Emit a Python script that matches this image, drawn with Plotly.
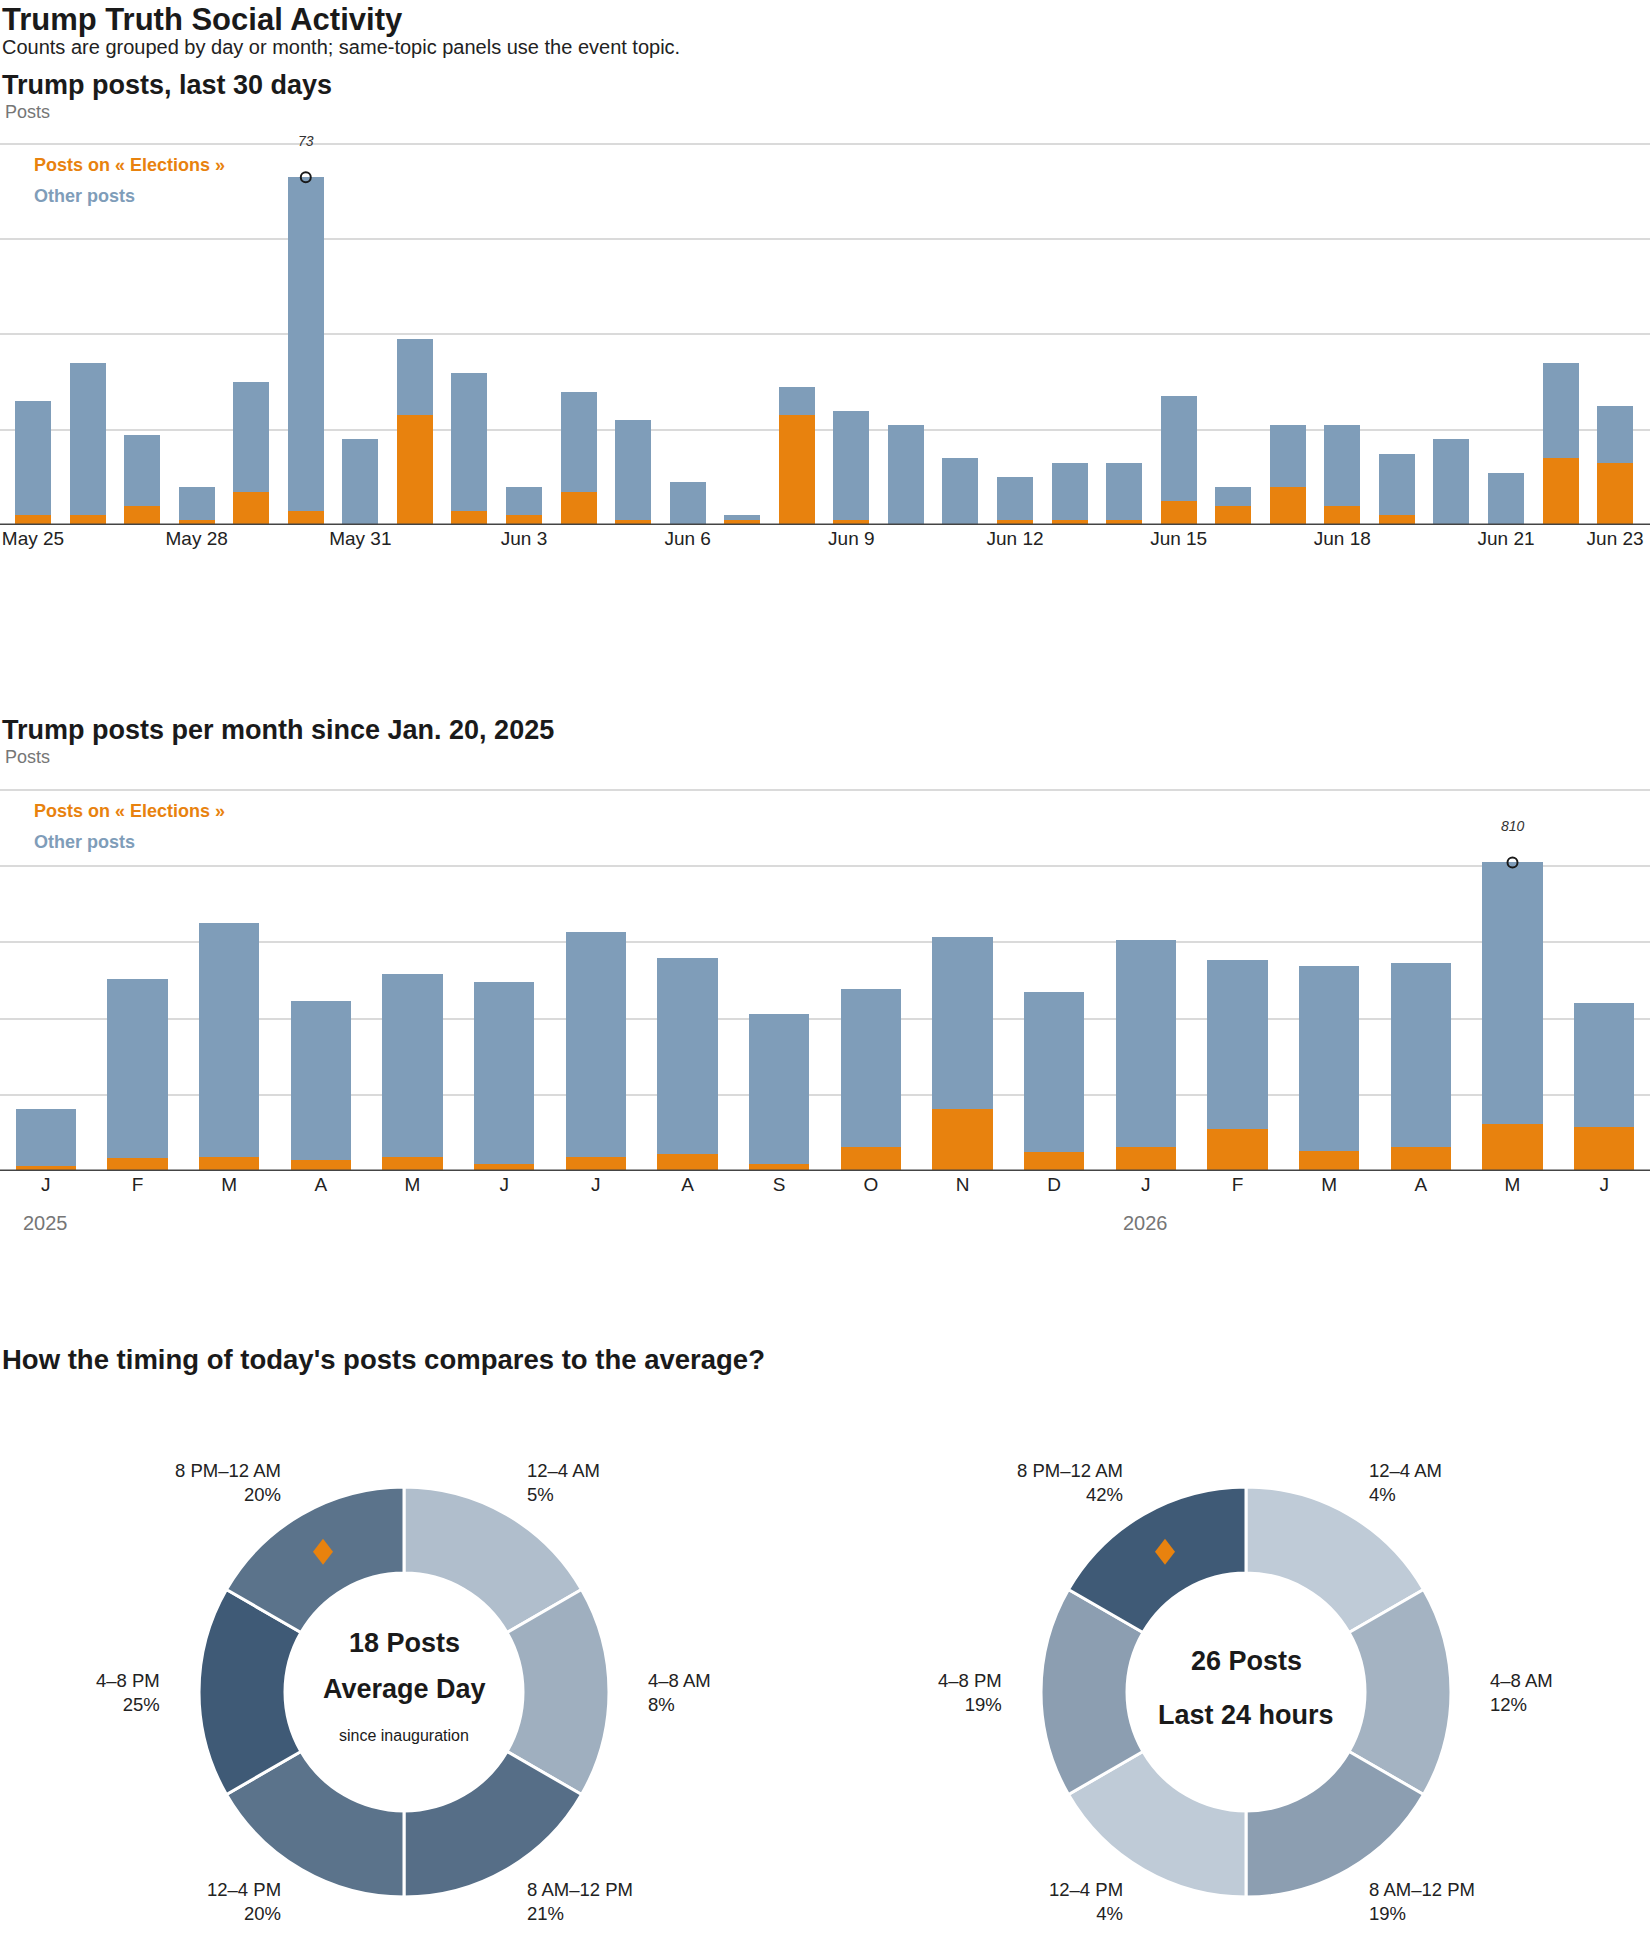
import math
import plotly.graph_objects as go

W, H = 1650, 1950
FONT = "Liberation Sans, Arial, sans-serif"
ORANGE = "#E8820E"
BLUE = "#7F9DB9"
INK = "#1a1a1a"
GRAY = "#767676"
GRID = "#dadada"

# ---------------- data ----------------
days = ["May 25", "May 26", "May 27", "May 28", "May 29", "May 30", "May 31",
        "Jun 1", "Jun 2", "Jun 3", "Jun 4", "Jun 5", "Jun 6", "Jun 7", "Jun 8",
        "Jun 9", "Jun 10", "Jun 11", "Jun 12", "Jun 13", "Jun 14", "Jun 15",
        "Jun 16", "Jun 17", "Jun 18", "Jun 19", "Jun 20", "Jun 21", "Jun 22", "Jun 23"]
daily_elections = [2, 2, 4, 1, 7, 3, 0, 23, 3, 2, 7, 1, 0, 1, 23,
                   1, 0, 0, 1, 1, 1, 5, 4, 8, 4, 2, 0, 0, 14, 13]
daily_other = [24, 32, 15, 7, 23, 70, 18, 16, 29, 6, 21, 21, 9, 1, 6,
               23, 21, 14, 9, 12, 12, 22, 4, 13, 17, 13, 18, 11, 20, 12]
day_ticks = ["May 25", "May 28", "May 31", "Jun 3", "Jun 6", "Jun 9",
             "Jun 12", "Jun 15", "Jun 18", "Jun 21", "Jun 23"]

months = ["Jan 2025", "Feb 2025", "Mar 2025", "Apr 2025", "May 2025", "Jun 2025",
          "Jul 2025", "Aug 2025", "Sep 2025", "Oct 2025", "Nov 2025", "Dec 2025",
          "Jan 2026", "Feb 2026", "Mar 2026", "Apr 2026", "May 2026", "Jun 2026"]
month_ticks = ["J", "F", "M", "A", "M", "J", "J", "A", "S", "O", "N", "D",
               "J", "F", "M", "A", "M", "J"]
monthly_elections = [12, 34, 36, 29, 36, 18, 36, 45, 18, 63, 162, 51,
                     63, 110, 52, 63, 123, 116]
monthly_other = [152, 469, 616, 416, 482, 479, 592, 515, 393, 414, 451, 420,
                 544, 445, 485, 484, 687, 326]
year_labels = {"Jan 2025": "2025", "Jan 2026": "2026"}

time_blocks = ["12–4 AM", "4–8 AM", "8 AM–12 PM", "12–4 PM", "4–8 PM", "8 PM–12 AM"]
avg_day_pct = [5, 8, 21, 20, 25, 20]
last24_pct = [4, 12, 19, 4, 19, 42]
avg_day_posts = 18
last24_posts = 26
current_block = "8 PM–12 AM"


# ---------------- helpers ----------------
def px_x(v):
    return v / W


def px_y(v):
    return 1 - v / H


annotations = []
shapes = []


def txt(x, y, text, size, color=INK, xanchor="left", yanchor="middle",
        align="left", xref="paper", yref="paper", yshift=0):
    annotations.append(dict(
        x=x, y=y, xref=xref, yref=yref, text=text, showarrow=False,
        xanchor=xanchor, yanchor=yanchor, align=align, yshift=yshift,
        font=dict(family=FONT, size=size, color=color)))


fig = go.Figure()

# ---------------- chart 1: daily ----------------
daily_total = [a + b for a, b in zip(daily_elections, daily_other)]
fig.add_trace(go.Bar(x=days, y=daily_elections, marker=dict(color=ORANGE, line=dict(width=0)),
                     xaxis="x", yaxis="y", hoverinfo="skip"))
fig.add_trace(go.Bar(x=days, y=daily_other, marker=dict(color=BLUE, line=dict(width=0)),
                     xaxis="x", yaxis="y", hoverinfo="skip"))
pk = daily_total.index(max(daily_total))
fig.add_trace(go.Scatter(x=[days[pk]], y=[daily_total[pk]], mode="markers",
                         marker=dict(symbol="circle-open", size=10, color=INK, line=dict(width=2)),
                         xaxis="x", yaxis="y", hoverinfo="skip"))
txt(days[pk], daily_total[pk], f"<i>{daily_total[pk]}</i>", 14, "#333",
    xanchor="center", xref="x", yref="y", yshift=36)

# ---------------- chart 2: monthly ----------------
monthly_total = [a + b for a, b in zip(monthly_elections, monthly_other)]
fig.add_trace(go.Bar(x=months, y=monthly_elections, marker=dict(color=ORANGE, line=dict(width=0)),
                     xaxis="x2", yaxis="y2", hoverinfo="skip"))
fig.add_trace(go.Bar(x=months, y=monthly_other, marker=dict(color=BLUE, line=dict(width=0)),
                     xaxis="x2", yaxis="y2", hoverinfo="skip"))
pk2 = monthly_total.index(max(monthly_total))
fig.add_trace(go.Scatter(x=[months[pk2]], y=[monthly_total[pk2]], mode="markers",
                         marker=dict(symbol="circle-open", size=10, color=INK, line=dict(width=2)),
                         xaxis="x2", yaxis="y2", hoverinfo="skip"))
txt(months[pk2], monthly_total[pk2], f"<i>{monthly_total[pk2]}</i>", 14, "#333",
    xanchor="center", xref="x2", yref="y2", yshift=36)
for m, yl in year_labels.items():
    txt(m, px_y(1223), yl, 20, GRAY, xanchor="center", xref="x2")

# baselines
for yr in ("y", "y2"):
    shapes.append(dict(type="line", xref="paper", x0=0, x1=1, yref=yr, y0=0, y1=0,
                       line=dict(color="#444444", width=3), layer="above"))

# ---------------- donuts ----------------
LIGHT = (204, 215, 225)
DARK = (63, 90, 118)


def shade(p, pmax):
    t = p / pmax
    return "rgb({},{},{})".format(*[round(l + (d - l) * t) for l, d in zip(LIGHT, DARK)])


R_OUT, R_IN = 205, 119
R_LABEL = 242
CY = 1692
donuts = [
    (404, avg_day_pct, [(f"<b>{avg_day_posts} Posts</b>", 1643, 27),
                        ("<b>Average Day</b>", 1689, 27),
                        ("since inauguration", 1735, 16)]),
    (1246, last24_pct, [(f"<b>{last24_posts} Posts</b>", 1661, 27),
                        ("<b>Last 24 hours</b>", 1715, 27)]),
]
nseg = len(time_blocks)
for cx, pct, center_lines in donuts:
    pmax = max(pct)
    fig.add_trace(go.Pie(
        values=[1 for _ in time_blocks], labels=time_blocks, sort=False,
        direction="clockwise", rotation=0, hole=R_IN / R_OUT,
        marker=dict(colors=[shade(p, pmax) for p in pct], line=dict(color="white", width=3)),
        textinfo="none", hoverinfo="skip", showlegend=False,
        domain=dict(x=[px_x(cx - R_OUT), px_x(cx + R_OUT)],
                    y=[px_y(CY + R_OUT), px_y(CY - R_OUT)])))
    for i, (blk, p) in enumerate(zip(time_blocks, pct)):
        a = math.radians((i + 0.5) * 360 / nseg)
        lx = cx + R_LABEL * math.sin(a)
        ly = CY - R_LABEL * math.cos(a)
        right = math.sin(a) > 0
        txt(px_x(lx), px_y(ly), f"{blk}<br>{p}%", 18.5, "#222",
            xanchor="left" if right else "right", align="left" if right else "right")
    # current block marker
    k = time_blocks.index(current_block)
    a = math.radians((k + 0.5) * 360 / nseg)
    rm = (R_IN + R_OUT) / 2
    dx, dy = cx + rm * math.sin(a), CY - rm * math.cos(a)
    pts = [(dx, dy - 13), (dx + 10, dy), (dx, dy + 13), (dx - 10, dy)]
    path = "M " + " L ".join(f"{px_x(x):.5f},{px_y(y):.5f}" for x, y in pts) + " Z"
    shapes.append(dict(type="path", xref="paper", yref="paper", path=path,
                       fillcolor=ORANGE, line=dict(width=0), layer="above"))
    for t, y, s in center_lines:
        txt(px_x(cx), px_y(y), t, s, INK, xanchor="center", align="center")

# ---------------- titles & legends ----------------
txt(0, 1, "<b>Trump Truth Social Activity</b>", 31, INK, yanchor="top")
txt(0, px_y(47), "Counts are grouped by day or month; same-topic panels use the event topic.", 20, "#222")
txt(0, px_y(85), "<b>Trump posts, last 30 days</b>", 27, INK)
txt(px_x(3), px_y(112), "Posts", 18, GRAY)
txt(0, px_y(730), "<b>Trump posts per month since Jan. 20, 2025</b>", 27, INK)
txt(px_x(3), px_y(757), "Posts", 18, GRAY)
txt(0, px_y(1359), "<b>How the timing of today's posts compares to the average?</b>", 27.5, INK)

for y_el, y_ot in ((165, 196), (811, 842)):
    txt(px_x(32), px_y(y_el), "<b>Posts on « Elections »</b>", 18, ORANGE)
    txt(px_x(32), px_y(y_ot), "<b>Other posts</b>", 18, BLUE)

# ---------------- layout ----------------
PX_PER_POST_D = 381 / 80
PX_PER_POST_M = 381 / 1000
axis_common = dict(showgrid=False, zeroline=False, showline=False, ticks="",
                   tickfont=dict(family=FONT, size=19, color="#222"), fixedrange=True)
yaxis_common = dict(showticklabels=False, gridcolor=GRID, gridwidth=1.5, zeroline=False,
                    showline=False, ticks="", fixedrange=True)

fig.update_layout(
    width=W, height=H, margin=dict(l=0, r=0, t=0, b=0),
    paper_bgcolor="white", plot_bgcolor="white",
    barmode="stack", bargap=0.34, showlegend=False,
    font=dict(family=FONT, color=INK),
    xaxis=dict(domain=[0, 1], anchor="y", range=[-0.605, 29.64],
               tickvals=day_ticks, ticktext=day_ticks, **axis_common),
    yaxis=dict(domain=[px_y(525), px_y(525 - 82 * PX_PER_POST_D)], anchor="x",
               range=[0, 82], tickvals=[20, 40, 60, 80], **yaxis_common),
    xaxis2=dict(domain=[0, 1], anchor="y2", range=[-0.5, 17.5],
                tickvals=months, ticktext=month_ticks, **axis_common),
    yaxis2=dict(domain=[px_y(1171), px_y(1171 - 1020 * PX_PER_POST_M)], anchor="x2",
                range=[0, 1020], tickvals=[200, 400, 600, 800, 1000], **yaxis_common),
    annotations=annotations,
    shapes=shapes,
)

fig.write_html("out.html")
